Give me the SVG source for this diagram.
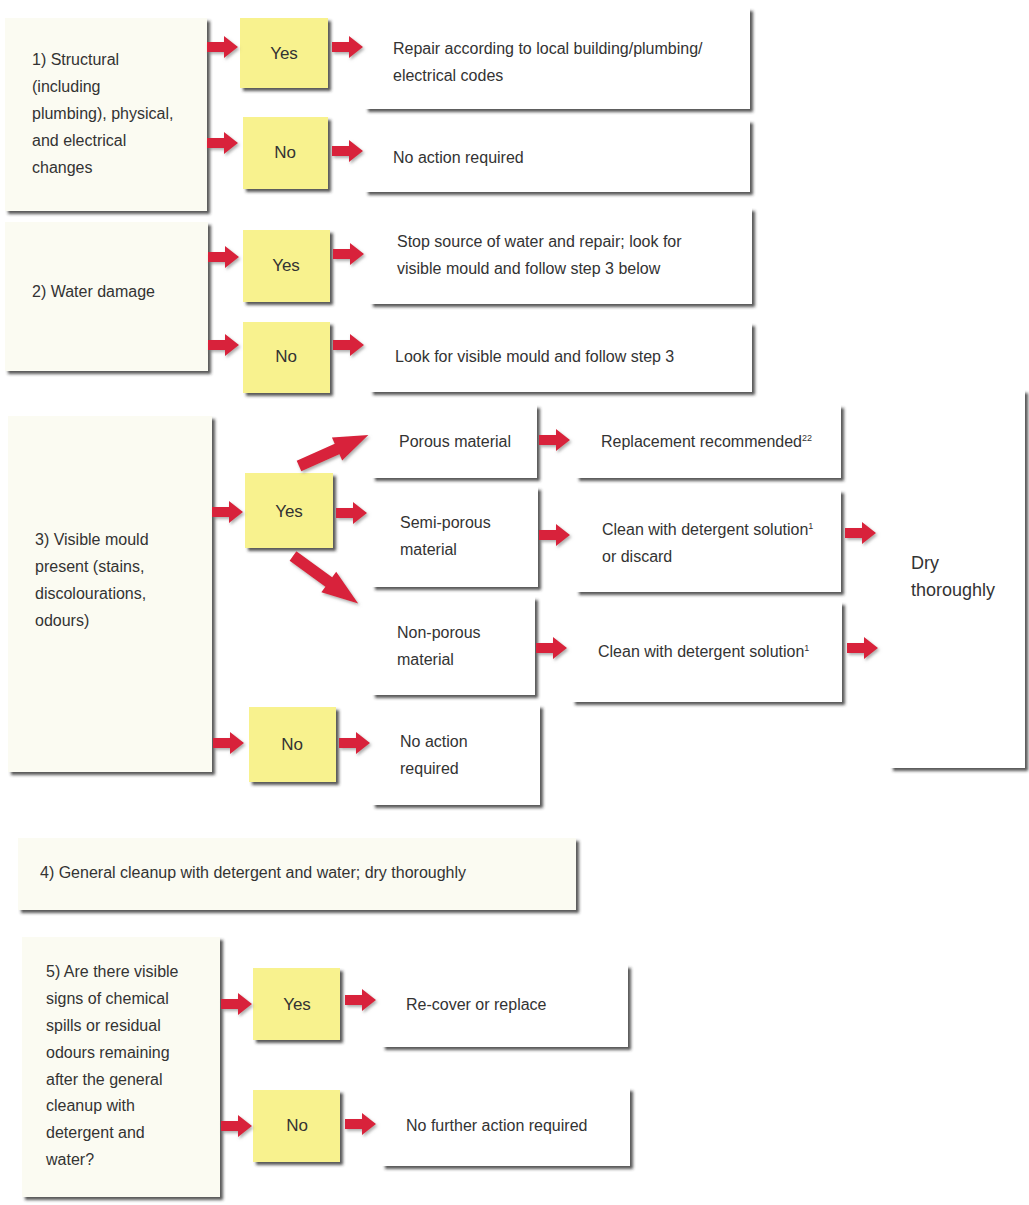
<svg xmlns="http://www.w3.org/2000/svg" xmlns:xlink="http://www.w3.org/1999/xlink" width="1029" height="1205" viewBox="0 0 1029 1205">
<defs>
<filter id="sh" x="-5%" y="-5%" width="115%" height="120%">
<feDropShadow dx="3" dy="3" stdDeviation="1.6" flood-color="#3a3a3a" flood-opacity="0.85"/>
</filter>
<filter id="ash" x="-20%" y="-30%" width="150%" height="170%">
<feDropShadow dx="1.5" dy="2" stdDeviation="1.5" flood-color="#777" flood-opacity="0.6"/>
</filter>
<path id="arr" d="M0,-5 H17 V-11 L31,0 L17,11 V5 H0 Z"/>
</defs>
<style>
.q{fill:#fbfbf2;filter:url(#sh)}
.r{fill:#ffffff;filter:url(#sh)}
.y{fill:#f8f28e;filter:url(#sh)}
text{font-family:"Liberation Sans",Arial,sans-serif;font-size:16px;fill:#333}
.c{text-anchor:middle;font-size:17px}
.big{font-size:18px}
.a{fill:#d8233b;filter:url(#ash)}
</style>
<rect width="1029" height="1205" fill="#ffffff"/>

<g id="q1"><rect class="q" x="5" y="18" width="202" height="193"/>
<text x="32" y="65">1) Structural</text><text x="32" y="92">(including</text><text x="32" y="119">plumbing), physical,</text><text x="32" y="146">and electrical</text><text x="32" y="173">changes</text></g>
<g id="yes1"><rect class="y" x="240" y="18" width="88" height="70"/><text class="c" x="284" y="59">Yes</text></g>
<g id="no1"><rect class="y" x="243" y="117" width="85" height="72"/><text class="c" x="285" y="158">No</text></g>
<g id="r1a"><rect class="r" x="365" y="8" width="385" height="101"/><text x="393" y="54">Repair according to local building/plumbing/</text><text x="393" y="81">electrical codes</text></g>
<g id="r1b"><rect class="r" x="365" y="120" width="385" height="72"/><text x="393" y="163">No action required</text></g>

<g id="q2"><rect class="q" x="5" y="222" width="203" height="149"/><text x="32" y="297">2) Water damage</text></g>
<g id="yes2"><rect class="y" x="243" y="230" width="87" height="72"/><text class="c" x="286" y="271">Yes</text></g>
<g id="no2"><rect class="y" x="243" y="322" width="87" height="71"/><text class="c" x="286" y="362">No</text></g>
<g id="r2a"><rect class="r" x="370" y="208" width="382" height="96"/><text x="397" y="247">Stop source of water and repair; look for</text><text x="397" y="274">visible mould and follow step 3 below</text></g>
<g id="r2b"><rect class="r" x="370" y="323" width="382" height="69"/><text x="395" y="362">Look for visible mould and follow step 3</text></g>

<g id="q3"><rect class="q" x="8" y="416" width="204" height="356"/>
<text x="35" y="545">3) Visible mould</text><text x="35" y="572">present (stains,</text><text x="35" y="599">discolourations,</text><text x="35" y="626">odours)</text></g>
<g id="yes3"><rect class="y" x="245" y="473" width="88" height="75"/><text class="c" x="289" y="517">Yes</text></g>
<g id="no3"><rect class="y" x="249" y="707" width="87" height="75"/><text class="c" x="292" y="750">No</text></g>
<g id="porous"><rect class="r" x="372" y="405" width="165" height="73"/><text x="399" y="447">Porous material</text></g>
<g id="semi"><rect class="r" x="372" y="487" width="166" height="100"/><text x="400" y="528">Semi-porous</text><text x="400" y="555">material</text></g>
<g id="nonporous"><rect class="r" x="372" y="597" width="163" height="98"/><text x="397" y="638">Non-porous</text><text x="397" y="665">material</text></g>
<g id="noaction3"><rect class="r" x="372" y="705" width="168" height="100"/><text x="400" y="747">No action</text><text x="400" y="774">required</text></g>
<g id="replace"><rect class="r" x="576" y="405" width="265" height="73"/><text x="601" y="447">Replacement recommended<tspan font-size="9" dy="-6">22</tspan></text></g>
<g id="clean1"><rect class="r" x="576" y="490" width="265" height="102"/><text x="602" y="535">Clean with detergent solution<tspan font-size="9" dy="-6">1</tspan></text><text x="602" y="562">or discard</text></g>
<g id="clean2"><rect class="r" x="572" y="602" width="270" height="100"/><text x="598" y="657">Clean with detergent solution<tspan font-size="9" dy="-6">1</tspan></text></g>
<g id="dry"><rect class="r" x="890" y="390" width="135" height="378"/><text class="big" x="911" y="569">Dry</text><text class="big" x="911" y="596">thoroughly</text></g>

<g id="q4"><rect class="q" x="18" y="838" width="558" height="72"/><text x="40" y="878">4) General cleanup with detergent and water; dry thoroughly</text></g>

<g id="q5"><rect class="q" x="22" y="937" width="198" height="260"/>
<text x="46" y="977">5) Are there visible</text><text x="46" y="1004">signs of chemical</text><text x="46" y="1031">spills or residual</text><text x="46" y="1058">odours remaining</text><text x="46" y="1085">after the general</text><text x="46" y="1111">cleanup with</text><text x="46" y="1138">detergent and</text><text x="46" y="1165">water?</text></g>
<g id="yes5"><rect class="y" x="253" y="968" width="87" height="72"/><text class="c" x="297" y="1010">Yes</text></g>
<g id="no5"><rect class="y" x="253" y="1090" width="87" height="72"/><text class="c" x="297" y="1131">No</text></g>
<g id="recover"><rect class="r" x="382" y="965" width="246" height="82"/><text x="406" y="1010">Re-cover or replace</text></g>
<g id="nofurther"><rect class="r" x="382" y="1088" width="248" height="78"/><text x="406" y="1131">No further action required</text></g>

<g id="connectors" class="a">
<use href="#arr" transform="translate(207,47)"/>
<use href="#arr" transform="translate(332,47)"/>
<use href="#arr" transform="translate(207,143)"/>
<use href="#arr" transform="translate(332,151)"/>
<use href="#arr" transform="translate(208,257)"/>
<use href="#arr" transform="translate(333,254)"/>
<use href="#arr" transform="translate(208,345)"/>
<use href="#arr" transform="translate(333,345)"/>
<use href="#arr" transform="translate(212,512)"/>
<use href="#arr" transform="translate(336,513)"/>
<use href="#arr" transform="translate(299,466) rotate(-24) scale(2.45,1.15)" />
<use href="#arr" transform="translate(293,556) rotate(36) scale(2.6,1.15)"/>
<use href="#arr" transform="translate(213,743)"/>
<use href="#arr" transform="translate(339,743)"/>
<use href="#arr" transform="translate(539,440)"/>
<use href="#arr" transform="translate(539,535)"/>
<use href="#arr" transform="translate(536,648)"/>
<use href="#arr" transform="translate(845,533)"/>
<use href="#arr" transform="translate(847,648)"/>
<use href="#arr" transform="translate(221,1004)"/>
<use href="#arr" transform="translate(345,1000)"/>
<use href="#arr" transform="translate(221,1126)"/>
<use href="#arr" transform="translate(345,1124)"/>
</g>
</svg>
